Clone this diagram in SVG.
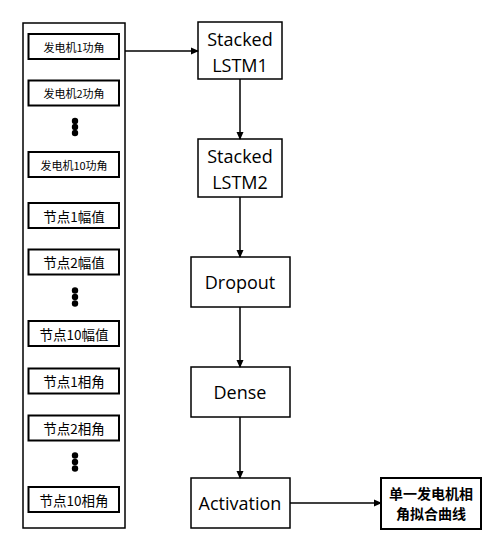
<svg xmlns="http://www.w3.org/2000/svg" width="492" height="546" viewBox="0 0 492 546">
<style>
.box{fill:#fff;stroke:#000;stroke-width:1.5}
.in{fill:#fff;stroke:#000;stroke-width:2}
.cn{font-family:"Noto Sans CJK SC","Liberation Sans",sans-serif;fill:#000;text-anchor:middle;dominant-baseline:central}
.en{font-family:"Open Sans","Liberation Sans",sans-serif;font-size:18px;fill:#000;text-anchor:middle;dominant-baseline:central}
.s11{font-size:11px}
.s13{font-size:13.5px}
.b{font-size:14px;font-weight:bold}
.ln{stroke:#000;stroke-width:1.5;fill:none}
</style>
<defs>
<marker id="ah" markerWidth="8" markerHeight="8" refX="7" refY="4" orient="auto" markerUnits="userSpaceOnUse">
<path d="M0,0.5 L8,4 L0,7.5 Z" fill="#000"/>
</marker>
</defs>
<rect width="492" height="546" fill="#fff"/>
<g id="inputs">
<rect x="23" y="23" width="102" height="505" class="box"/>
<g id="g1"><rect x="28.5" y="34" width="90.5" height="25" class="in"/><text x="74" y="46.5" class="cn s11">发电机1功角</text></g>
<g id="g2"><rect x="28.5" y="80.5" width="90.5" height="25" class="in"/><text x="74" y="93" class="cn s11">发电机2功角</text></g>
<g id="dots1"><circle cx="75" cy="121" r="3.2"/><circle cx="75" cy="127" r="3.2"/><circle cx="75" cy="133" r="3.2"/></g>
<g id="g10"><rect x="28.5" y="152" width="90.5" height="25" class="in"/><text x="74" y="164.5" class="cn s11">发电机10功角</text></g>
<g id="a1"><rect x="28.5" y="203" width="90.5" height="25" class="in"/><text x="74" y="215.5" class="cn s13">节点1幅值</text></g>
<g id="a2"><rect x="28.5" y="249.5" width="90.5" height="25" class="in"/><text x="74" y="262" class="cn s13">节点2幅值</text></g>
<g id="dots2"><circle cx="75" cy="290.5" r="3.2"/><circle cx="75" cy="297" r="3.2"/><circle cx="75" cy="303.5" r="3.2"/></g>
<g id="a10"><rect x="28.5" y="321" width="90.5" height="25" class="in"/><text x="74" y="333.5" class="cn s13">节点10幅值</text></g>
<g id="p1"><rect x="28.5" y="368.5" width="90.5" height="25" class="in"/><text x="74" y="381" class="cn s13">节点1相角</text></g>
<g id="p2"><rect x="28.5" y="415.5" width="90.5" height="25" class="in"/><text x="74" y="428" class="cn s13">节点2相角</text></g>
<g id="dots3"><circle cx="75" cy="455.5" r="3.2"/><circle cx="75" cy="462" r="3.2"/><circle cx="75" cy="468.5" r="3.2"/></g>
<g id="p10"><rect x="28.5" y="487" width="90.5" height="25" class="in"/><text x="74" y="499.5" class="cn s13">节点10相角</text></g>
</g>
<g id="lstm1"><rect x="198" y="22" width="84" height="57" class="box"/><text x="240" y="39" class="en">Stacked</text><text x="240" y="65" class="en">LSTM1</text></g>
<g id="lstm2"><rect x="198" y="139" width="84" height="58" class="box"/><text x="240" y="156" class="en">Stacked</text><text x="240" y="182" class="en">LSTM2</text></g>
<g id="dropout"><rect x="191" y="257" width="99" height="50" class="box"/><text x="240" y="282" class="en">Dropout</text></g>
<g id="dense"><rect x="191" y="367" width="99" height="50" class="box"/><text x="240" y="392" class="en">Dense</text></g>
<g id="activation"><rect x="191" y="478" width="99" height="50" class="box"/><text x="240" y="503" class="en">Activation</text></g>
<g id="output"><rect x="381" y="478" width="100" height="51" class="in"/><text x="431" y="493" class="cn b">单一发电机相</text><text x="431" y="513" class="cn b">角拟合曲线</text></g>
<g id="connectors">
<line x1="125" y1="51" x2="198" y2="51" class="ln" marker-end="url(#ah)"/>
<line x1="240" y1="79" x2="240" y2="139" class="ln" marker-end="url(#ah)"/>
<line x1="240" y1="197" x2="240" y2="257" class="ln" marker-end="url(#ah)"/>
<line x1="240" y1="307" x2="240" y2="367" class="ln" marker-end="url(#ah)"/>
<line x1="240" y1="417" x2="240" y2="478" class="ln" marker-end="url(#ah)"/>
<line x1="290" y1="503" x2="381" y2="503" class="ln" marker-end="url(#ah)"/>
</g>
</svg>
